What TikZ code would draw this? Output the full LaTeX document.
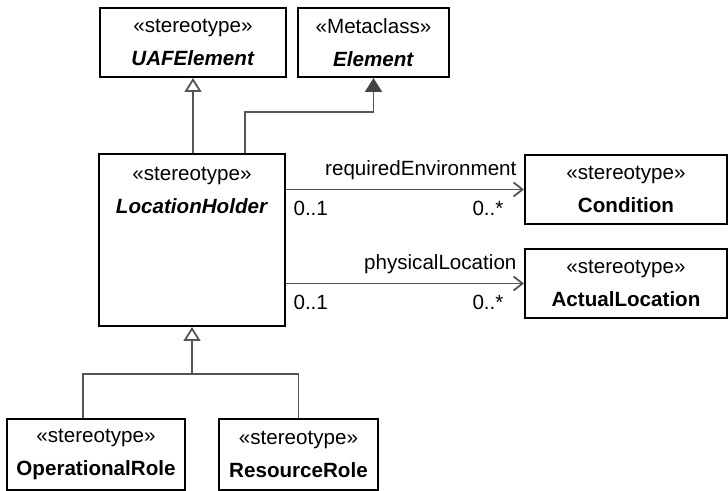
\documentclass[tikz,border=0pt]{standalone}
\usepackage{fontspec}
\setmainfont{Liberation Sans}
\usetikzlibrary{positioning,arrows.meta}
\definecolor{linegray}{HTML}{555555}
\definecolor{headgray}{HTML}{444444}

\begin{document}
\begin{tikzpicture}[
    x=0.5pt, y=-0.5pt,
    box/.style={
        draw,
        line width=1pt,
        align=center,
        font=\fontsize{10.3pt}{16.5pt}\selectfont,
        minimum height=34.5pt
    },
    link/.style={line width=0.9pt, draw=linegray},
    gen/.style={link, -{Triangle[open, length=7pt, width=8.5pt]}},
    meta/.style={link, -{Triangle[length=7pt, width=8.5pt, color=headgray, fill=headgray]}},
    assoc/.style={link, -{Straight Barb[length=4.5pt, width=7pt]}},
    lbl/.style={font=\fontsize{10.3pt}{12pt}\selectfont}
]
\useasboundingbox (0,0) rectangle (728,491);

\node[box, minimum width=93pt] (uaf) at (193,42.5) {«stereotype»\\\textbf{\textit{UAFElement}}};
\node[box, minimum width=75.5pt, right=5pt of uaf] (elem) {«Metaclass»\\\textbf{\textit{Element}}};

\node[box, minimum width=93pt, minimum height=86pt,
      label={[align=center, anchor=north, yshift=-3.5pt, font=\fontsize{10.3pt}{16.5pt}\selectfont]north:{«stereotype»\\\textbf{\textit{LocationHolder}}}}] (holder) at (192,240) {};

\node[box, minimum width=101pt, anchor=north west] (cond) at (524,154) {«stereotype»\\\textbf{Condition}};
\node[box, minimum width=101pt, below=11.5pt of cond] (actual) {«stereotype»\\\textbf{ActualLocation}};

\node[box, minimum width=89pt, minimum height=35.5pt] (oprole) at (96,454.5) {«stereotype»\\\textbf{OperationalRole}};
\node[box, minimum width=79.5pt, minimum height=35.5pt, right=16pt of oprole] (resrole) {«stereotype»\\\textbf{ResourceRole}};

% generalizations and metaclass extension
\draw[gen] (holder.north -| uaf.south) -- (uaf.south);
\draw[meta] ([xshift=26.5pt]holder.north) -- ++(0,-41) -| (elem.south);

% associations
\draw[assoc] (holder.east |- cond.west) -- (cond.west)
    node[lbl, at end, above left, yshift=1pt] {requiredEnvironment}
    node[lbl, at end, below left, xshift=-6.5pt, yshift=-2pt] {0..*}
    node[lbl, at start, below right, yshift=-2pt] {0..1};
\draw[assoc] (holder.east |- actual.west) -- (actual.west)
    node[lbl, at end, above left, yshift=1pt] {physicalLocation}
    node[lbl, at end, below left, xshift=-6.5pt, yshift=-2pt] {0..*}
    node[lbl, at start, below right, yshift=-2pt] {0..1};

% roles
\path (holder.south) ++(0,47) coordinate (join);
\draw[gen] (join) -- (holder.south);
\draw[link] ([xshift=-6.5pt]oprole.north) |- (join);
\draw[link] (resrole.north) |- (join);
\end{tikzpicture}
\end{document}
